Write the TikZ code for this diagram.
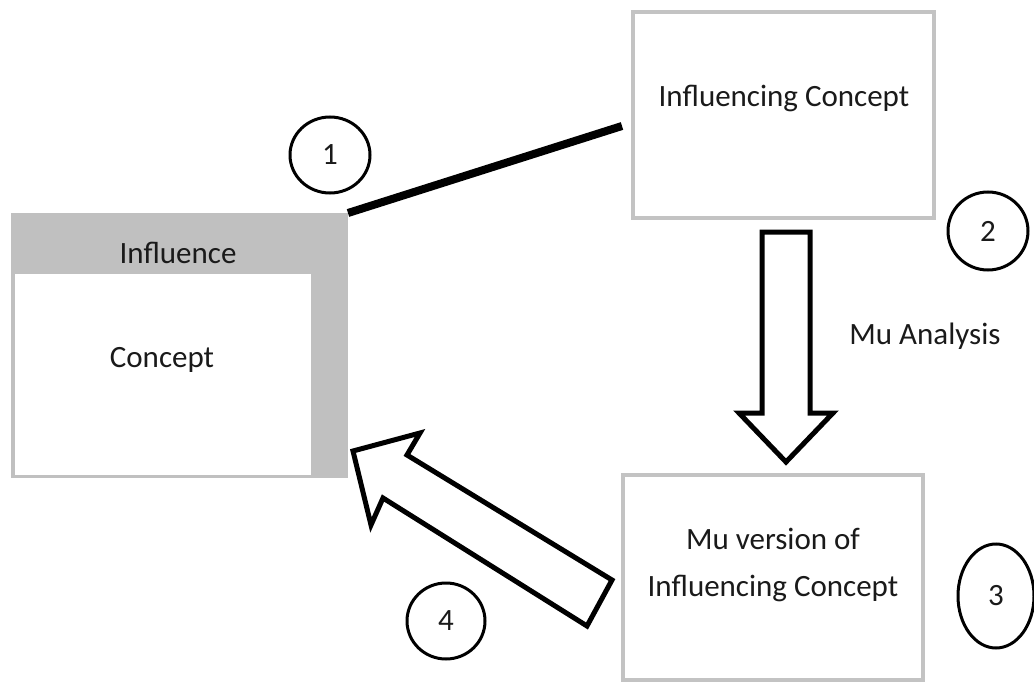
\documentclass[tikz,border=0pt]{standalone}
\usepackage{fontspec}
\setmainfont{Carlito}
\usetikzlibrary{shapes.geometric}
\definecolor{boxgray}{HTML}{C3C3C3}
\definecolor{bandgray}{HTML}{C0C0C0}
\definecolor{inkc}{HTML}{1A1A1A}
\begin{document}
\begin{tikzpicture}[x=1pt,y=-1pt,
  font=\fontsize{31}{37}\selectfont,
  box/.style={draw=boxgray, line width=4pt, fill=white, inner sep=0pt, outer sep=0pt},
  lbl/.style={anchor=base, inner sep=0pt, text=inkc},
  num/.style={draw, ellipse, line width=3pt, inner sep=0pt, text=inkc},
  hollow/.style={draw, line width=5pt, fill=white, line join=miter}]
\useasboundingbox (0,0) rectangle (1034,682);

% concept with its grey influence band
\node[fill=bandgray, inner sep=0pt, outer sep=0pt,
      minimum width=337pt, minimum height=265pt] (inf) at (179.5,345.5) {};
\node[fill=white, inner sep=0pt, outer sep=0pt,
      minimum width=296pt, minimum height=201pt] (conc) at (163,374.5) {};
\node[lbl] (tinf) at (178,263) {Influence};
\node[lbl] (tconc) at (162,367) {Concept};

% influencing concept
\node[box, minimum width=301pt, minimum height=206pt] (ic) at (783.5,115) {};
\node[lbl] (tic) at (784,107) {Influencing Concept};

% mu version
\node[box, minimum width=300pt, minimum height=205pt] (mu) at (773,577.5) {};
\node[lbl] (tmu1) at (773,549) {Mu version of};
\node[lbl] (tmu2) at (773,596) {Influencing Concept};

\node[lbl] (tma) at (925,344) {Mu Analysis};

% link from the influence band to the influencing concept
\coordinate (lend) at (622,126);
\draw[line width=8pt] (inf.north east) -- (lend);

% mu analysis arrow
\draw[hollow] (762,232) -- (810,232) -- (810,413) -- (833,413)
  -- (786,462) -- (739,413) -- (762,413) -- cycle;

% feedback arrow
\draw[hollow] (353,451) -- (420,433) -- (407,455) -- (612,580)
  -- (587,626) -- (383,498) -- (371,525) -- cycle;

% step numbers
\node[num, minimum width=80pt, minimum height=76pt] (n1) at (330,155) {1};
\node[num, minimum width=80pt, minimum height=78pt] (n2) at (988,231) {2};
\node[num, minimum width=76pt, minimum height=104pt] (n3) at (996,596) {3};
\node[num, minimum width=78pt, minimum height=76pt] (n4) at (446,621) {4};
\end{tikzpicture}
\end{document}
